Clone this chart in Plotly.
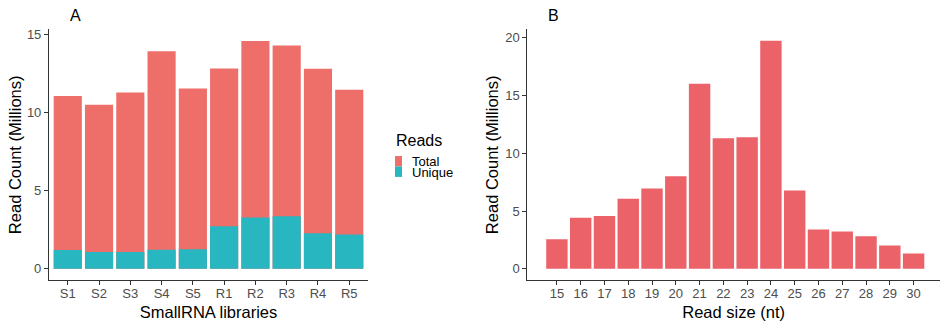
import plotly.graph_objects as go

# Panel A: read counts per small RNA library (millions)
libraries = ["S1", "S2", "S3", "S4", "S5", "R1", "R2", "R3", "R4", "R5"]
total_reads = [11.06, 10.5, 11.28, 13.93, 11.55, 12.82, 14.58, 14.3, 12.8, 11.47]
unique_reads = [1.21, 1.08, 1.08, 1.23, 1.25, 2.73, 3.29, 3.37, 2.28, 2.2]
series_names = ["Total", "Unique"]

# Panel B: read length distribution (millions)
read_sizes = list(range(15, 31))
size_counts = [2.55, 4.41, 4.58, 6.07, 6.95, 8.01, 16.0, 11.3, 11.39, 19.72,
               6.78, 3.41, 3.24, 2.81, 2.01, 1.32]

W, H = 940, 324
RED_A = "#EE6F6A"
CYAN_A = "#28B6C1"
RED_B = "#EB6269"
FONT = "Liberation Sans, Arial, sans-serif"
TICK_GREY = "#4D4D4D"


def px_x(x):
    return x / W


def px_y(y):
    return 1 - y / H


fig = go.Figure()

# overlaid bars: total behind, unique in front
fig.add_trace(go.Bar(x=list(range(len(libraries))), y=total_reads, name=series_names[0],
                     marker=dict(color=RED_A, line=dict(width=0)), width=0.9,
                     xaxis="x", yaxis="y", showlegend=False))
fig.add_trace(go.Bar(x=list(range(len(libraries))), y=unique_reads, name=series_names[1],
                     marker=dict(color=CYAN_A, line=dict(width=0)), width=0.9,
                     xaxis="x", yaxis="y", showlegend=False))
fig.add_trace(go.Bar(x=read_sizes, y=size_counts, name="Reads",
                     marker=dict(color=RED_B, line=dict(width=0)), width=0.9,
                     xaxis="x2", yaxis="y2", showlegend=False))

y_dom = [px_y(280), px_y(27.5)]
axis_common = dict(showline=True, linecolor="#333333", linewidth=1.1,
                   ticks="outside", ticklen=4, tickwidth=1, tickcolor="#333333",
                   showgrid=False, zeroline=False,
                   tickfont=dict(family=FONT, size=13, color=TICK_GREY),
                   title_font=dict(family=FONT, size=16.5, color="#000000"))

fig.update_layout(
    width=W, height=H,
    margin=dict(l=0, r=0, t=0, b=0),
    paper_bgcolor="white", plot_bgcolor="white",
    barmode="overlay",
    xaxis=dict(domain=[px_x(49), px_x(368)], range=[-0.6, 9.6],
               tickvals=list(range(len(libraries))), ticktext=libraries,
               ticklabelstandoff=-3,
               title=dict(text="SmallRNA libraries", standoff=6),
               anchor="y", **axis_common),
    yaxis=dict(domain=y_dom, range=[-0.73, 15.33], tickvals=[0, 5, 10, 15],
               title=dict(text="Read Count (Millions)", standoff=1),
               anchor="x", **axis_common),
    xaxis2=dict(domain=[px_x(527.3), 1.0], range=[13.755, 31.11],
                tickvals=read_sizes,
                ticklabelstandoff=-3,
                title=dict(text="Read size (nt)", standoff=6),
                anchor="y2", **axis_common),
    yaxis2=dict(domain=y_dom, range=[-0.986, 20.71], tickvals=[0, 5, 10, 15, 20],
                title=dict(text="Read Count (Millions)", standoff=2),
                anchor="x2", **axis_common),
)

# panel tags
for tag, cx in (("A", 75.5), ("B", 553)):
    fig.add_annotation(text=tag, x=px_x(cx), y=px_y(13.5), xref="paper", yref="paper",
                       showarrow=False, xanchor="center", yanchor="middle",
                       font=dict(family=FONT, size=16, color="#000000"))

# legend for panel A
fig.add_annotation(text="Reads", x=px_x(394), y=px_y(139.5), xref="paper", yref="paper",
                   showarrow=False, xanchor="left", yanchor="middle",
                   font=dict(family=FONT, size=16, color="#000000"))
key_rows = [(155, 165.5, RED_A, 160.5), (165.5, 176, CYAN_A, 171.5)]
for name, (top, bot, col, ty) in zip(series_names, key_rows):
    fig.add_shape(type="rect", xref="paper", yref="paper",
                  x0=px_x(395), x1=px_x(402), y0=px_y(bot), y1=px_y(top),
                  fillcolor=col, line=dict(width=0))
    fig.add_annotation(text=name, x=px_x(411), y=px_y(ty), xref="paper", yref="paper",
                       showarrow=False, xanchor="left", yanchor="middle", borderpad=0,
                       font=dict(family=FONT, size=13, color="#000000"))

fig.write_html("out.html")
